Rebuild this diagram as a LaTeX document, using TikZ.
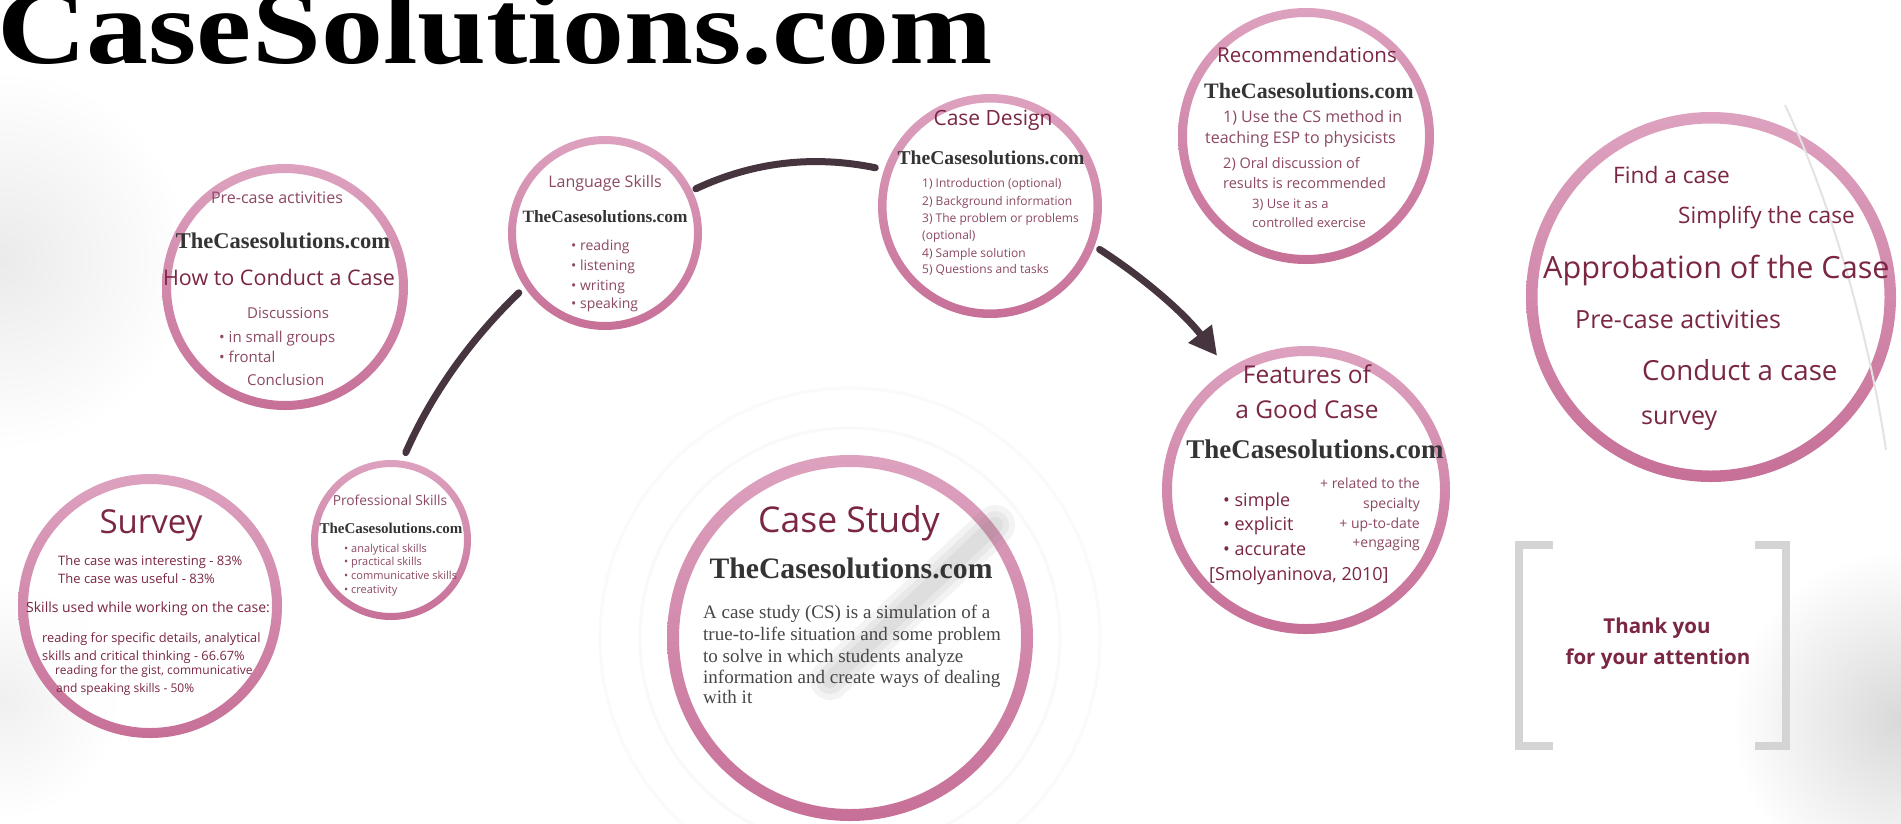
\documentclass[tikz,border=0pt]{standalone}
\usepackage{fontspec}
\setmainfont{Open Sans}
\newfontfamily\brandfont{Liberation Serif}
\usetikzlibrary{arrows.meta}
\definecolor{maroon}{RGB}{122,38,68}
\definecolor{maroonl}{RGB}{140,72,100}
\definecolor{brandgrey}{RGB}{52,52,52}
\definecolor{ringtop}{RGB}{221,162,191}
\definecolor{ringbot}{RGB}{199,112,151}
\definecolor{connc}{RGB}{70,52,62}
\definecolor{bodygrey}{RGB}{70,70,70}
\definecolor{bracketgrey}{RGB}{212,212,212}
\newcommand\myfs[1]{\fontsize{#1}{#1}\selectfont}
\newcommand\myring[3]{%
  \fill[white,opacity=.85] (#1) circle[radius=#2];
  \shade[top color=ringtop,bottom color=ringbot,even odd rule] (#1) circle[radius=#2] (#1) circle[radius=#2-#3];
}
\tikzset{
  hub/.style={circle,inner sep=0pt,outer sep=0pt,draw=none},
  link/.style={draw=connc,line width=7pt,line cap=round},
  ttl/.style={inner sep=0pt,text=maroon,anchor=base,font={\myfs{#1}}},
  txl/.style={inner sep=0pt,text=maroonl,anchor=base west,font={\myfs{#1}}},
  txr/.style={inner sep=0pt,text=maroonl,anchor=base east,font={\myfs{#1}}},
  txm/.style={inner sep=0pt,text=maroon,anchor=base west,font={\myfs{#1}}},
  brd/.style={inner sep=0pt,text=brandgrey,anchor=base,font={\brandfont\bfseries\myfs{#1}}},
  bod/.style={inner sep=0pt,text=bodygrey,anchor=base west,font={\brandfont\myfs{#1}}},
  brk/.style={draw=bracketgrey,line width=8pt},
  haze/.style={draw=gray,opacity=.09,line cap=round}
}
\begin{document}
\begin{tikzpicture}[x=1pt,y=-1pt]
\useasboundingbox (0,0) rectangle (1901,823);
\fill[white] (0,0) rectangle (1901,823);
% soft background
\shade[inner color=gray!16,outer color=white] (0,260) circle[radius=190];
\shade[inner color=gray!30,outer color=white] (1901,720) circle[radius=170];
\shade[inner color=gray!12,outer color=white] (0,700) circle[radius=120];
\draw[gray!5,line width=3pt] (850,638) circle[radius=210];
\draw[gray!4,line width=3pt] (850,638) circle[radius=250];

% circle hubs
\node[hub,minimum size=246pt] (pre) at (285,287) {};
\node[hub,minimum size=194pt] (lang) at (605,233) {};
\node[hub,minimum size=224pt] (design) at (990,206) {};
\node[hub,minimum size=256pt] (rec) at (1306,136) {};
\node[hub,minimum size=288pt] (feat) at (1306,490) {};
\node[hub,minimum size=264pt] (survey) at (150,606) {};
\node[hub,minimum size=160pt] (prof) at (391,540) {};
\node[hub,minimum size=366pt] (study) at (850,638) {};
\node[hub,minimum size=370pt] (appro) at (1711,297) {};

\myring{pre}{123}{9}
\myring{lang}{97}{8}
\myring{design}{112}{8.5}
\myring{rec}{128}{9}
\myring{feat}{144}{10}
\myring{survey}{132}{10}
\myring{prof}{80}{7}
\myring{study}{183}{12}
\myring{appro}{185}{11.5}

% shadows
\draw[haze,line width=40pt] (995,525) -- (830,680);
\draw[haze,line width=28pt] (995,525) -- (830,680);
\draw[haze,line width=16pt] (995,525) -- (830,680);
\draw[gray!22,line width=2pt] (1785,105) .. controls (1830,200) and (1868,330) .. (1886,450);

% connectors
\draw[link,shorten <=9pt,shorten >=8pt] (prof.82) .. controls (432,393) and (471,339) .. (lang.214);
\draw[link,shorten <=4pt,shorten >=9pt] (lang.26.6) .. controls (753,162) and (813,155) .. (design.161);
\draw[link,-{Triangle[length=28pt,width=28pt]},shorten <=6pt,shorten >=17pt] (design.-21) .. controls (1144,278) and (1184,313) .. (feat.123);

% title
\node[inner sep=0pt,anchor=base west,font={\brandfont\bfseries\myfs{106}}] (title) at (-3,63) {\scalebox{1.17}[1]{CaseSolutions.com}};

% pre-case
\node[ttl=16,text=maroonl] (p1) at (277,203) {Pre-case activities};
\node[brd=22.5] (p2) at (283,248) {TheCasesolutions.com};
\node[ttl=21.5] (p3) at (279,285) {How to Conduct a Case};
\node[txl=15] (p4) at (247,318) {Discussions};
\node[txl=15] (p5) at (219,342) {• in small groups};
\node[txl=15] (p6) at (219,362) {• frontal};
\node[txl=15] (p7) at (247,385) {Conclusion};

% language skills
\node[ttl=16,text=maroonl] (l1) at (605,187) {Language Skills};
\node[brd=17.3] (l2) at (605,222) {TheCasesolutions.com};
\node[txl=14] (l3) at (571,250) {• reading};
\node[txl=14] (l4) at (571,270) {• listening};
\node[txl=14] (l5) at (571,290) {• writing};
\node[txl=14] (l6) at (571,308) {• speaking};

% case design
\node[ttl=21] (d1) at (993,125) {Case Design};
\node[brd=19.6] (d2) at (991,164) {TheCasesolutions.com};
\node[txl=12] (d3) at (922,187) {1) Introduction (optional)};
\node[txl=12] (d4) at (922,205) {2) Background information};
\node[txl=12] (d5) at (922,222) {3) The problem or problems};
\node[txl=12] (d6) at (922,239) {(optional)};
\node[txl=12] (d7) at (922,257) {4) Sample solution};
\node[txl=12] (d8) at (922,273) {5) Questions and tasks};

% recommendations
\node[ttl=20.5] (r1) at (1307,62) {Recommendations};
\node[brd=22] (r2) at (1309,98) {TheCasesolutions.com};
\node[txl=16] (r3) at (1223,122) {1) Use the CS method in};
\node[txl=16] (r4) at (1205,143) {teaching ESP to physicists};
\node[txl=14.5] (r5) at (1223,168) {2) Oral discussion of};
\node[txl=14.5] (r6) at (1223,188) {results is recommended};
\node[txl=13] (r7) at (1252,208) {3) Use it as a};
\node[txl=13] (r8) at (1252,227) {controlled exercise};

% features
\node[ttl=24.5] (f1) at (1307,383) {Features of};
\node[ttl=24.5] (f2) at (1307,418) {a Good Case};
\node[brd=27] (f3) at (1315,458) {TheCasesolutions.com};
\node[txm=18] (f4) at (1223,506) {• simple};
\node[txm=18] (f5) at (1223,530) {• explicit};
\node[txm=18] (f6) at (1223,555) {• accurate};
\node[txm=18] (f7) at (1209,580) {[Smolyaninova, 2010]};
\node[txr=14] (f8) at (1420,488) {+ related to the};
\node[txr=14] (f9) at (1420,508) {specialty};
\node[txr=14] (f10) at (1420,528) {+ up-to-date};
\node[txr=14] (f11) at (1420,547) {+engaging};

% survey
\node[ttl=33] (s1) at (151,533) {Survey};
\node[txm=13] (s2) at (58,565) {The case was interesting - 83\%};
\node[txm=13] (s3) at (58,583) {The case was useful - 83\%};
\node[ttl=14] (s4) at (148,612) {Skills used while working on the case:};
\node[txm=12.8] (s5) at (42,642) {reading for specific details, analytical};
\node[txm=12.8] (s6) at (42,660) {skills and critical thinking - 66.67\%};
\node[txm=12] (s7) at (55,674) {reading for the gist, communicative};
\node[txm=12] (s8) at (56,692) {and speaking skills - 50\%};

% professional skills
\node[ttl=13.8,text=maroonl] (q1) at (390,505) {Professional Skills};
\node[brd=15] (q2) at (391,533) {TheCasesolutions.com};
\node[txl=11] (q3) at (344,552) {• analytical skills};
\node[txl=11] (q4) at (344,565) {• practical skills};
\node[txl=11] (q5) at (344,579) {• communicative skills};
\node[txl=11] (q6) at (344,593) {• creativity};

% case study
\node[ttl=35.5] (c1) at (849,532) {Case Study};
\node[brd=29.7] (c2) at (851,578) {TheCasesolutions.com};
\node[bod=19] (c3) at (703,618) {A case study (CS) is a simulation of a};
\node[bod=19] (c4) at (703,640) {true-to-life situation and some problem};
\node[bod=19] (c5) at (703,662) {to solve in which students analyze};
\node[bod=19] (c6) at (703,683) {information and create ways of dealing};
\node[bod=19] (c7) at (703,703) {with it};

% approbation
\node[txm=22.7] (a1) at (1613,183) {Find a case};
\node[txm=22.6] (a2) at (1678,223) {Simplify the case};
\node[txm=30.6] (a3) at (1543,278) {Approbation of the Case};
\node[txm=25] (a4) at (1575,328) {Pre-case activities};
\node[txm=27.7] (a5) at (1642,380) {Conduct a case};
\node[txm=25] (a6) at (1641,424) {survey};

% thank you
\draw[brk] (1553,545) -- (1519,545) -- (1519,746) -- (1553,746);
\draw[brk] (1755,545) -- (1786,545) -- (1786,746) -- (1755,746);
\node[ttl=20.5,font={\bfseries\myfs{20.5}}] (k1) at (1657,633) {Thank you};
\node[ttl=20.5,font={\bfseries\myfs{20.5}}] (k2) at (1658,664) {for your attention};
\end{tikzpicture}
\end{document}
